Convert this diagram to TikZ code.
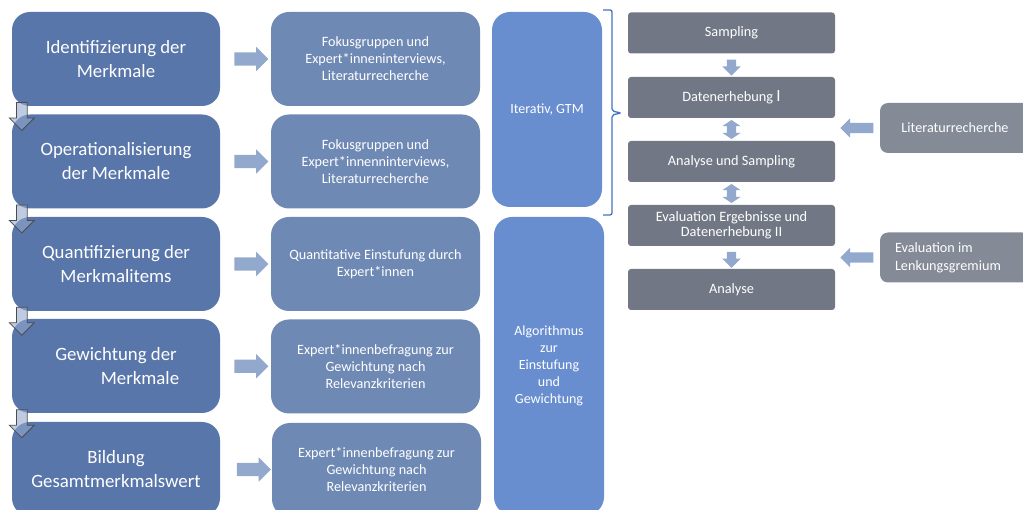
\documentclass[tikz,border=0pt]{standalone}
\usepackage{fontspec}
\setmainfont{Carlito}
\usetikzlibrary{shapes.arrows,calc}
\definecolor{leftblue}{HTML}{5876AA}
\definecolor{midblue}{HTML}{6F89B5}
\definecolor{colblue}{HTML}{688ECF}
\definecolor{braceblue}{HTML}{4472C4}
\definecolor{phasegray}{HTML}{717784}
\definecolor{srcgray}{HTML}{848A96}
\definecolor{arrowblue}{HTML}{92A8CD}
\begin{document}
\begin{tikzpicture}[x=1pt,y=-1pt,
  merkmal/.style={fill=leftblue,rounded corners=18pt,minimum width=208pt,minimum height=94pt,
    inner sep=0pt,text=white,align=center,font=\fontsize{18.8}{24}\selectfont},
  methode/.style={fill=midblue,rounded corners=18pt,minimum width=209pt,minimum height=94pt,
    inner sep=0pt,text=white,align=center,font=\fontsize{14.2}{17}\selectfont},
  saeule/.style={fill=colblue,rounded corners=18pt,minimum width=110pt,
    inner sep=0pt,text=white,align=center,font=\fontsize{14}{17}\selectfont},
  phase/.style={fill=phasegray,rounded corners=3pt,minimum width=207pt,minimum height=41pt,
    inner sep=0pt,text=white,align=center,font=\fontsize{14.3}{15}\selectfont},
  quelle/.style={fill=srcgray,rounded corners=8pt,minimum width=150pt,minimum height=50pt,
    inner sep=0pt,text=white,font=\fontsize{14.2}{18}\selectfont},
  fatarrow/.style={single arrow,fill=arrowblue,minimum height=34pt,inner xsep=0pt,inner ysep=6.5pt,
    single arrow head extend=5.5pt},
  downout/.style={single arrow,rotate=-90,fill=arrowblue,fill opacity=.6,draw=gray!60!black,
    line width=.8pt,minimum height=28pt,inner xsep=0pt,inner ysep=5pt,single arrow head extend=7pt},
  smalldown/.style={single arrow,rotate=-90,fill=arrowblue,minimum height=16pt,inner xsep=0pt,
    inner ysep=4.5pt,single arrow head extend=4.5pt},
  dblarrow/.style={double arrow,rotate=90,fill=arrowblue,minimum height=19pt,inner xsep=0pt,
    inner ysep=4.5pt,double arrow head extend=4.5pt,double arrow tip angle=112},
  leftarrow/.style={single arrow,rotate=180,fill=arrowblue,minimum height=33pt,inner xsep=0pt,
    inner ysep=5pt,single arrow head extend=4.5pt}]
\useasboundingbox (0,0) rectangle (1023,510);
\clip (0,0) rectangle (1023,510);
% Merkmale
\node[merkmal] (l1) at (116,59) {Identifizierung der\\Merkmale};
\node[merkmal] (l2) at (116,161.5) {Operationalisierung\\der Merkmale};
\node[merkmal] (l3) at (116,264) {Quantifizierung der\\Merkmalitems};
\node[merkmal] (l4) at (116,366) {Gewichtung der\\\hspace*{48pt}Merkmale};
\node[merkmal] (l5) at (116,469) {Bildung\\Gesamtmerkmalswert};
% Methoden
\node[methode] (m1) at (375.5,59) {Fokusgruppen und\\Expert*inneninterviews,\\Literaturrecherche};
\node[methode] (m2) at (375.5,161.5) {Fokusgruppen und\\Expert*innenninterviews,\\Literaturrecherche};
\node[methode] (m3) at (375.5,264) {Quantitative Einstufung durch\\Expert*innen};
\node[methode] (m4) at (375.5,366.5) {Expert*innenbefragung zur\\Gewichtung nach\\Relevanzkriterien};
\node[methode] (m5) at (376.5,470) {Expert*innenbefragung zur\\Gewichtung nach\\Relevanzkriterien};
\node[saeule,minimum height=195pt] (c1) at (547,109.5) {Iterativ, GTM};
\node[saeule,minimum height=298pt] (c2) at (549,366) {Algorithmus\\zur\\Einstufung\\und\\Gewichtung};
\node[fatarrow] (f1) at ($(l1.east)!.5!(m1.west)+(2.5,0)$) {};
\node[fatarrow] (f2) at ($(l2.east)!.5!(m2.west)+(2.5,0)$) {};
\node[fatarrow] (f3) at ($(l3.east)!.5!(m3.west)+(2.5,0)$) {};
\node[fatarrow] (f4) at ($(l4.east)!.5!(m4.west)+(2.5,0)$) {};
\node[fatarrow] (f5) at ($(l5.east)!.5!(m5.west)+(4.5,0)$) {};
\node[downout] (d1) at ($(l1.south west)!.5!(l2.north west)+(10,3.5)$) {};
\node[downout] (d2) at ($(l2.south west)!.5!(l3.north west)+(10,3.5)$) {};
\node[downout] (d3) at ($(l3.south west)!.5!(l4.north west)+(10,3.5)$) {};
\node[downout] (d4) at ($(l4.south west)!.5!(l5.north west)+(10,3.5)$) {};
% Klammer
\draw[braceblue,line width=1.3pt,rounded corners=2pt] (603,10) -- (612,10) -- (612,111)
  -- (621,113) -- (612,115) -- (612,215) -- (603,215);
% Ablauf
\node[phase] (p1) at (731.5,33) {Sampling};
\node[phase] (p2) at (731.5,97.5) {Datenerhebung {\fontsize{17}{17}\selectfont I}};
\node[phase] (p3) at (731.5,161.5) {Analyse und Sampling};
\node[phase] (p4) at (731.5,225.5) {Evaluation Ergebnisse und\\Datenerhebung II};
\node[phase] (p5) at (731.5,289.5) {Analyse};
\node[smalldown] (a1) at ($(p1.south)!.5!(p2.north)$) {};
\node[dblarrow] (a2) at ($(p2.south)!.5!(p3.north)$) {};
\node[dblarrow] (a3) at ($(p3.south)!.5!(p4.north)$) {};
\node[smalldown] (a4) at ($(p4.south)!.5!(p5.north)$) {};
\node[quelle] (q1) at (955,128) {Literaturrecherche};
\node[quelle,align=flush left,text width=120pt,inner xsep=15pt] (q2) at (955,257.5) {Evaluation im\\Lenkungsgremium};
\node[leftarrow] (r1) at ($(p2.east |- q1)!.5!(q1.west)+(2,0)$) {};
\node[leftarrow] (r2) at ($(p4.east |- q2)!.5!(q2.west)+(2,0)$) {};
\end{tikzpicture}
\end{document}
